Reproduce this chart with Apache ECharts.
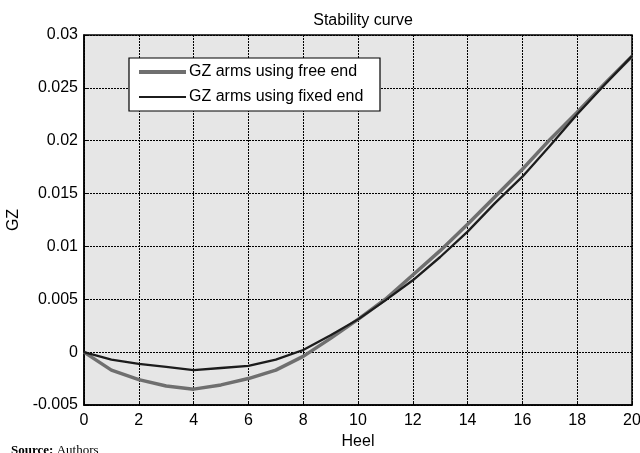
<!DOCTYPE html>
<html>
<head>
<meta charset="utf-8">
<script src="https://cdn.jsdelivr.net/npm/echarts@6/dist/echarts.min.js"></script>
<style>
  html, body { margin: 0; padding: 0; background: #fff; }
  #chart { width: 640px; height: 453px; }
</style>
</head>
<body>
<div id="chart"></div>
<script>
// heel angle (x) and GZ values
const heel = [0, 1, 2, 3, 4, 5, 6, 7, 8, 9, 10, 11, 12, 13, 14, 15, 16, 17, 18, 19, 20];
const freeEnd = [0, -0.0017, -0.0026, -0.0032, -0.0035, -0.0031, -0.0025, -0.0017, -0.0004, 0.0013, 0.0031,
  0.005, 0.0073, 0.0096, 0.0121, 0.0147, 0.0173, 0.0201, 0.0227, 0.0254, 0.028];
const fixedEnd = [0, -0.0007, -0.0011, -0.0014, -0.0017, -0.0015, -0.0013, -0.0007, 0.0002, 0.0016, 0.0031,
  0.0049, 0.0068, 0.009, 0.0114, 0.0141, 0.0166, 0.0195, 0.0225, 0.0253, 0.028];
const seriesNames = ['GZ arms using free end', 'GZ arms using fixed end'];

const chart = echarts.init(document.getElementById('chart'));
const font = 'Liberation Sans, Arial, sans-serif';
const fs = 16;

const toPairs = (vals) => vals.map((v, i) => [heel[i], v]);

const option = {
  animation: false,
  textStyle: { fontFamily: font },
  title: {
    text: 'Stability curve',
    left: 358,
    top: 8,
    textAlign: 'center',
    textStyle: { fontFamily: font, fontSize: fs, fontWeight: 'normal', color: '#000' }
  },
  grid: {
    left: 84, right: 8, top: 35, bottom: 48,
    outerBoundsMode: 'none',
    containLabel: false,
    show: true,
    backgroundColor: '#e6e6e6',
    borderColor: '#000',
    borderWidth: 1.5
  },
  legend: [
    {
      data: [{ name: seriesNames[0], icon: 'rect' }],
      left: 139, top: 64,
      itemWidth: 47, itemHeight: 4,
      padding: 0, itemGap: 0,
      textStyle: { fontFamily: font, fontSize: fs, color: '#000', padding: [0, 0, 0, -2] },
      selectedMode: false, z: 10
    },
    {
      data: [{ name: seriesNames[1], icon: 'rect' }],
      left: 139, top: 89,
      itemWidth: 47, itemHeight: 2,
      padding: 0, itemGap: 0,
      textStyle: { fontFamily: font, fontSize: fs, color: '#000', padding: [0, 0, 0, -2] },
      selectedMode: false, z: 10
    }
  ],
  graphic: [
    {
      type: 'rect', z: 5,
      shape: { x: 129, y: 58, width: 251, height: 53 },
      style: { fill: '#fff', stroke: '#000', lineWidth: 1.2 }
    },
    {
      type: 'text', left: 11, top: 444,
      style: {
        text: '{b|Source:} {r|Authors}',
        rich: {
          b: { fontFamily: 'Liberation Serif, serif', fontWeight: 'bold', fontSize: 13, fill: '#000' },
          r: { fontFamily: 'Liberation Serif, serif', fontSize: 13, fill: '#000' }
        }
      }
    }
  ],
  xAxis: {
    type: 'value',
    min: 0, max: 20, interval: 2,
    name: 'Heel',
    nameLocation: 'middle',
    nameGap: 27,
    nameTextStyle: { fontFamily: font, fontSize: fs, color: '#000' },
    axisLine: { show: true, onZero: false, lineStyle: { color: '#000', width: 1.5 } },
    axisTick: { show: true, inside: true, length: 4, lineStyle: { color: '#000' } },
    axisLabel: { fontFamily: font, fontSize: fs, color: '#000', margin: 8 },
    splitLine: { show: true, lineStyle: { color: '#000', type: [2, 1], width: 1 } }
  },
  yAxis: {
    type: 'value',
    min: -0.005, max: 0.03, interval: 0.005,
    name: 'GZ',
    nameLocation: 'middle',
    nameGap: 62,
    nameRotate: 90,
    nameTextStyle: { fontFamily: font, fontSize: fs, color: '#000' },
    axisLine: { show: true, onZero: false, lineStyle: { color: '#000', width: 1.5 } },
    axisTick: { show: true, inside: true, length: 4, lineStyle: { color: '#000' } },
    axisLabel: {
      fontFamily: font, fontSize: fs, color: '#000', margin: 6,
      formatter: (v) => String(Number(v.toFixed(3)))
    },
    splitLine: { show: true, lineStyle: { color: '#000', type: [2, 1], width: 1 } }
  },
  series: [
    {
      name: seriesNames[0],
      type: 'line',
      data: toPairs(freeEnd),
      showSymbol: false,
      lineStyle: { color: '#6f6f6f', width: 3.5 },
      itemStyle: { color: '#6f6f6f' },
      z: 2
    },
    {
      name: seriesNames[1],
      type: 'line',
      data: toPairs(fixedEnd),
      showSymbol: false,
      lineStyle: { color: '#1c1c1c', width: 2.3 },
      itemStyle: { color: '#1c1c1c' },
      z: 3
    }
  ]
};

chart.setOption(option);
</script>
</body>
</html>
